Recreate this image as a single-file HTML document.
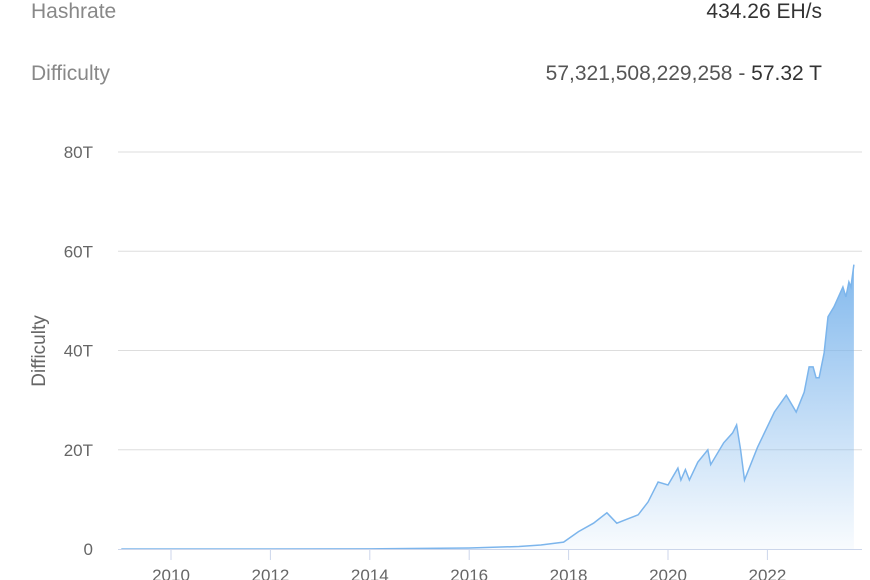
<!DOCTYPE html>
<html><head><meta charset="utf-8"><style>
body{margin:0;width:870px;height:580px;overflow:hidden;background:#fff;font-family:"Liberation Sans",sans-serif;}
.lbl{position:absolute;font-size:21px;color:#888;}
.val{position:absolute;font-size:21px;color:#555;right:48px;}
</style></head><body>
<div class="lbl" style="left:31px;top:0px">Hashrate</div>
<div class="val" style="top:0px;color:#333">434.26 EH/s</div>
<div class="lbl" style="left:31px;top:62px">Difficulty</div>
<div class="val" style="top:62px">57,321,508,229,258 - <span style="color:#333">57.32 T</span></div>
<svg id="chart" width="870" height="580" style="position:absolute;left:0;top:0">
<defs><linearGradient id="g" x1="0" y1="0" x2="0" y2="1">
<stop offset="0" stop-color="#7cb5ec" stop-opacity="0.95"/><stop offset="1" stop-color="#7cb5ec" stop-opacity="0.05"/></linearGradient></defs>
</svg>
<script>
const years=[2009,2012,2014,2016,2017,2017.44,2017.9,2018.2,2018.5,2018.77,2018.97,2019.2,2019.4,2019.6,2019.8,2020,2020.2,2020.26,2020.35,2020.43,2020.6,2020.8,2020.86,2021.12,2021.3,2021.38,2021.46,2021.54,2021.8,2022.14,2022.38,2022.58,2022.74,2022.84,2022.92,2022.98,2023.04,2023.14,2023.22,2023.34,2023.52,2023.58,2023.64,2023.68,2023.74];
const values=[0,0.002,0.03,0.2,0.5,0.8,1.4,3.5,5.2,7.3,5.2,6.1,6.9,9.5,13.5,12.9,16.3,13.9,16,13.9,17.5,20,17,21.4,23.4,25,20,13.9,20.5,27.6,31,27.6,31.6,36.7,36.7,34.5,34.5,39.5,46.8,48.8,52.8,50.8,53.8,52.8,57.3];
const yTicks=[0,20,40,60,80];
const yTickLabels=["0","20T","40T","60T","80T"];
const xTicks=[2010,2012,2014,2016,2018,2020,2022];
const svg=document.getElementById('chart');
const NS='http://www.w3.org/2000/svg';
const X=y=>171+(y-2010)*49.7;
const Y=v=>549-v*4.9625;
function mk(t,a){const e=document.createElementNS(NS,t);for(const k in a)e.setAttribute(k,a[k]);svg.appendChild(e);return e;}
yTicks.forEach((v,i)=>{
 if(v>0){const l=mk('line',{x1:118,x2:862,y1:Y(v),y2:Y(v),stroke:'#ddd','stroke-width':1});
 
 }
 const t=mk('text',{x:93,y:Y(v)+6,'text-anchor':'end','font-size':17,fill:'#666'});
 t.textContent=yTickLabels[i];
 
 
});
let d='M'+X(years[0])+','+Y(values[0]);
years.forEach((y,i)=>{d+=' L'+X(y).toFixed(1)+','+Y(values[i]).toFixed(1);});
const area=mk('path',{d:d+' L'+X(years[years.length-1])+','+Y(0)+' L'+X(years[0])+','+Y(0)+'Z',fill:'url(#g)'});


const line=mk('path',{d:d,fill:'none',stroke:'#7cb5ec','stroke-width':1.5});


const ax=mk('line',{x1:118,x2:862,y1:549.5,y2:549.5,stroke:'#ccd6eb','stroke-width':1});


xTicks.forEach(y=>{
 const tk=mk('line',{x1:X(y),x2:X(y),y1:550,y2:560,stroke:'#ccd6eb'});
 
 
 const t=mk('text',{x:X(y),y:581,'text-anchor':'middle','font-size':17,fill:'#666'});
 t.textContent=y;
 
 
});
const yt=mk('text',{x:0,y:0,transform:'translate(45,351) rotate(-90)','text-anchor':'middle','font-size':19,fill:'#666'});
yt.textContent='Difficulty';


</script>
</body></html>
